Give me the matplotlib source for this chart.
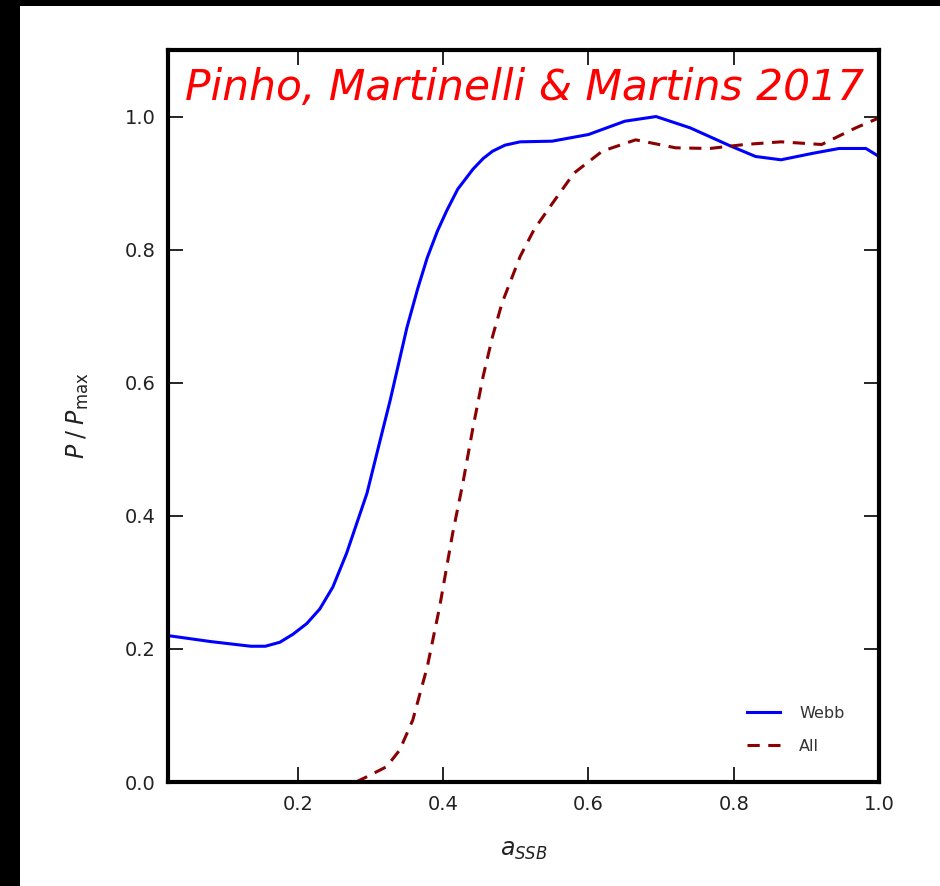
import matplotlib.pyplot as plt
from matplotlib.patches import Rectangle

# posterior for the Webb sample
webb_a = [0.021, 0.08, 0.135, 0.155, 0.175, 0.193, 0.212, 0.23, 0.248, 0.267, 0.295, 0.313,
          0.327, 0.35, 0.365, 0.378, 0.392, 0.405, 0.42, 0.441, 0.455, 0.468, 0.485, 0.506,
          0.55, 0.6, 0.65, 0.693, 0.74, 0.795, 0.83, 0.865, 0.91, 0.945, 0.982, 1.0]
webb_p = [0.22, 0.211, 0.204, 0.204, 0.21, 0.222, 0.238, 0.26, 0.293, 0.344, 0.434, 0.513,
          0.574, 0.683, 0.742, 0.788, 0.828, 0.859, 0.891, 0.921, 0.937, 0.948, 0.957, 0.962,
          0.963, 0.973, 0.993, 1.0, 0.983, 0.956, 0.94, 0.935, 0.945, 0.952, 0.952, 0.94]

# posterior for the full data set
all_a = [0.28, 0.295, 0.322, 0.34, 0.358, 0.378, 0.395, 0.413, 0.427, 0.441, 0.455,
         0.468, 0.481, 0.506, 0.525, 0.548, 0.58, 0.619, 0.665, 0.72, 0.767, 0.815, 0.865,
         0.921, 0.968, 1.0]
all_p = [0.0, 0.008, 0.023, 0.048, 0.093, 0.173, 0.263, 0.374, 0.449, 0.533, 0.61,
         0.67, 0.72, 0.79, 0.83, 0.866, 0.915, 0.948, 0.965, 0.953, 0.952, 0.958, 0.962,
         0.958, 0.983, 0.998]

xticks = [0.2, 0.4, 0.6, 0.8, 1.0]
yticks = [0.0, 0.2, 0.4, 0.6, 0.8, 1.0]

fig = plt.figure(figsize=(9.4, 8.86), dpi=100)
fig.patch.set_facecolor('white')
# black frame on the top and left edges
fig.patches.append(Rectangle((0, 0), 20 / 940, 1, transform=fig.transFigure,
                             facecolor='black', edgecolor='none', zorder=0))
fig.patches.append(Rectangle((0, 1 - 6 / 886), 1, 6 / 886, transform=fig.transFigure,
                             facecolor='black', edgecolor='none', zorder=0))

ax = fig.add_axes([168 / 940, 104 / 886, 711 / 940, 732 / 886])

ax.plot(webb_a, webb_p, color='#0000ff', lw=2.2, label='Webb')
ax.plot(all_a, all_p, color='#8b0000', lw=2.2, ls=(0, (4, 2.8)), label='All')

ax.set_xlim(0.021, 1.0)
ax.set_ylim(0.0, 1.1)
ax.set_xticks(xticks)
ax.set_yticks(yticks)
ax.set_xticklabels(['%.1f' % t for t in xticks])
ax.set_yticklabels(['%.1f' % t for t in yticks])

for s in ax.spines.values():
    s.set_linewidth(3)
ax.tick_params(direction='in', length=11, width=1.2, top=True, right=True,
               labelsize=14, pad=9, colors='black')
for lab in ax.get_xticklabels() + ax.get_yticklabels():
    lab.set_color('#222222')

ax.set_xlabel(r'$a_{SSB}$', fontsize=17, labelpad=18, color='#222222')
ax.set_ylabel(r'$P\;/\;P_{\rm max}$', fontsize=17, labelpad=24, color='#222222')

ax.text(0.502, 0.9317, 'Pinho, Martinelli & Martins 2017', transform=ax.transAxes,
        ha='center', va='baseline', color='red', fontsize=30.5, style='italic',
        family='DejaVu Sans')

leg = ax.legend(loc='lower right', bbox_to_anchor=(0.963, 0.028), frameon=False,
                fontsize=11.5, handlelength=2.1, handletextpad=1.2, labelspacing=1.1,
                borderpad=0)
for t in leg.get_texts():
    t.set_color('#333333')

fig.savefig('out.png', dpi=100, facecolor=fig.get_facecolor())
